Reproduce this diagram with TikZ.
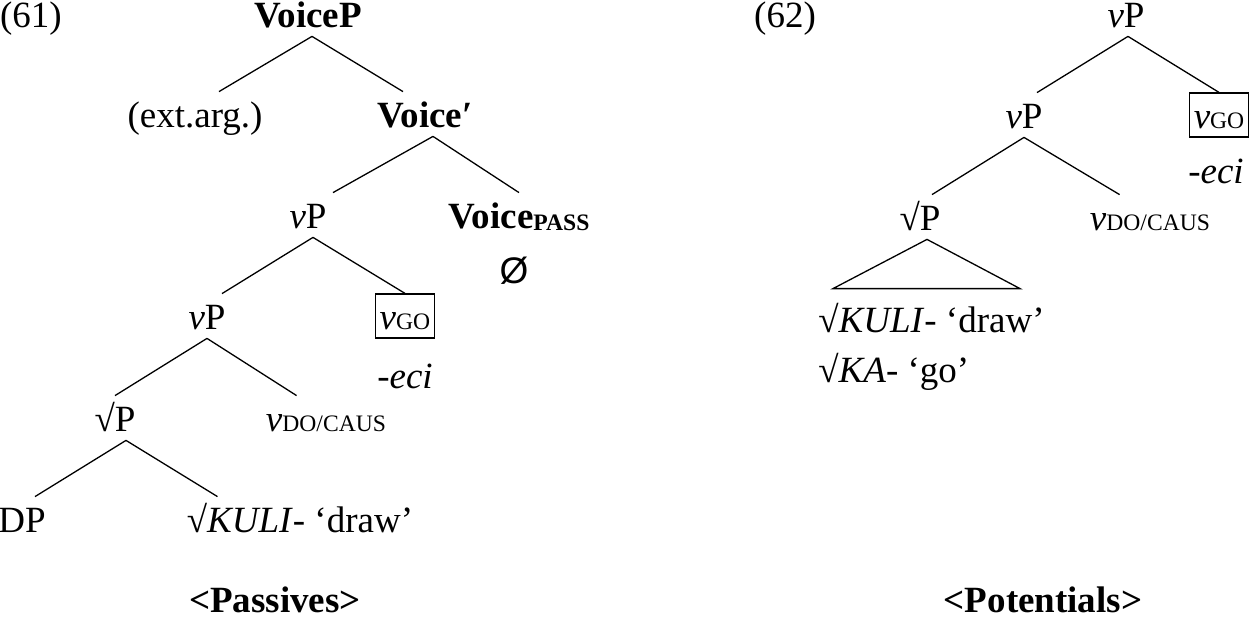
\documentclass[tikz,border=0pt]{standalone}
\usepackage{fontspec}
\setmainfont{Liberation Serif}
\newfontfamily\nullsetfont{Liberation Sans}
\usepackage{tikz}
\usetikzlibrary{positioning,calc}
\newcommand{\lsub}[1]{{\fontsize{11.8}{12}\selectfont #1}}
\newcommand{\vcat}{\textit{v}}
\tikzset{%
  % classes
  cat/.style={anchor=base, inner xsep=0pt, inner ysep=4.5pt, text height=13pt,
    text depth=0pt, font=\fontsize{18.5}{21}\selectfont},
  catb/.style={cat, font=\fontsize{18.5}{21}\selectfont\bfseries},
  cati/.style={cat, font=\fontsize{18.5}{21}\selectfont\itshape},
  head/.style={cat, draw, line width=0.6pt, inner xsep=2pt},
  leaf/.style={cat, anchor=base west},
  % edge styles
  branch/.style={line width=0.65pt, line join=miter},
}

\begin{document}
\begin{tikzpicture}[x=0.5pt, y=-0.5pt]
  \useasboundingbox (0,0) rectangle (1250,621);

  % (61) passives
  \node[cat] (ex61) at (31,27) {(61)};
  \node[catb] (voiceP) at (308,27) {VoiceP};
  \node[cat] (extarg) at (195,127) {(ext.arg.)};
  \node[catb] (voicebar) at (425,127) {Voice′};
  \node[cat] (vP) at (308,228) {\vcat P};
  \node[catb] (voicepass) at (519,228) {Voice\raisebox{-1pt}{\lsub{PASS}}};
  \node[cat, font=\fontsize{18.5}{21}\selectfont\nullsetfont] (nullhead) at (514,283) {Ø};
  \node[cat] (vPlow) at (207,329) {\vcat P};
  \node[head] (vgo) at (405,329) {\vcat\lsub{GO}};
  \node[cati] (eci) at (405,388) {-eci};
  \node[cat] (rootP) at (115,431) {√P};
  \node[cat] (vdo) at (326,431) {\vcat\lsub{DO/CAUS}};
  \node[cat] (dp) at (22,532) {DP};
  \node[cat] (kuli) at (300,532) {√\textit{KULI}- ‘draw’};
  \node[catb] (passives) at (275,612) {<Passives>};

  \draw[branch] ([xshift=2pt]voiceP.south) -- ([xshift=12pt]extarg.north);
  \draw[branch] ([xshift=2pt]voiceP.south) -- ([xshift=-11pt]voicebar.north);
  \draw[branch] ([xshift=4pt]voicebar.south) -- ([xshift=12.5pt]vP.north);
  \draw[branch] ([xshift=4pt]voicebar.south) -- (voicepass.north);
  \draw[branch] ([xshift=2.5pt]vP.south) -- ([xshift=7.5pt]vPlow.north);
  \draw[branch] ([xshift=2.5pt]vP.south) -- (vgo.north);
  \draw[branch] (vPlow.south) -- (rootP.north);
  \draw[branch] (vPlow.south) -- ([xshift=15.5pt]vdo.north west);
  \draw[branch] ([xshift=5.5pt]rootP.south) -- ([xshift=6.5pt]dp.north);
  \draw[branch] ([xshift=5.5pt]rootP.south) -- ([xshift=15.5pt]kuli.north west);

  % (62) potentials
  \node[cat] (ex62) at (785,27) {(62)};
  \node[cat] (vPtop) at (1126,27) {\vcat P};
  \node[cat] (vPmid) at (1024,128) {\vcat P};
  \node[head] (vgoR) at (1219,128) {\vcat\lsub{GO}};
  \node[cati] (eciR) at (1216,183) {-eci};
  \node[cat] (rootPR) at (920,230) {√P};
  \node[cat] (vdoR) at (1150,230) {\vcat\lsub{DO/CAUS}};
  \node[leaf] (kuliR) at (818,332) {√\textit{KULI}- ‘draw’};
  \node[leaf] (kaR) at (818,382) {√\textit{KA}- ‘go’};
  \node[catb] (potentials) at (1043,612) {<Potentials>};

  \draw[branch] ([xshift=1pt]vPtop.south) -- ([xshift=6.5pt]vPmid.north);
  \draw[branch] ([xshift=1pt]vPtop.south) -- (vgoR.north);
  \draw[branch] (vPmid.south) -- ([xshift=6pt]rootPR.north);
  \draw[branch] (vPmid.south) -- ([xshift=15pt]vdoR.north west);
  \draw[branch] ([xshift=3.5pt]rootPR.south)
    -- ([xshift=7.5pt,yshift=4pt]kuliR.north west)
    -- ([xshift=101pt,yshift=4pt]kuliR.north west) -- cycle;
\end{tikzpicture}
\end{document}
